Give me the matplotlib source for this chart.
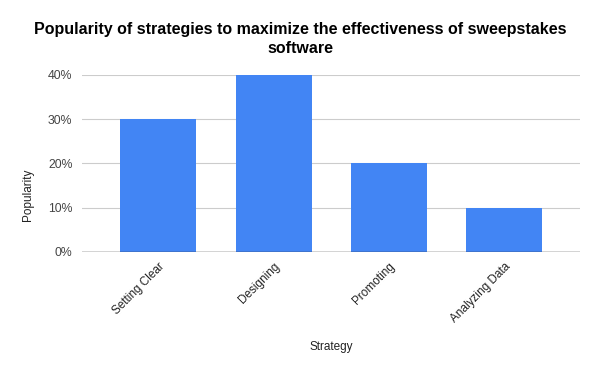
import matplotlib.pyplot as plt
from matplotlib.ticker import PercentFormatter

plt.rcParams['font.family'] = ['Liberation Sans', 'DejaVu Sans']

strategies = ["Setting Clear", "Designing", "Promoting", "Analyzing Data"]
popularity = [0.30, 0.40, 0.20, 0.10]

fig = plt.figure(figsize=(6, 3.71), dpi=100)
ax = fig.add_axes([0.137, 0.321, 0.83, 0.477])

x = range(len(strategies))
ax.bar(x, popularity, width=0.66, color="#4285F4", zorder=3)

ax.set_xlim(-0.66, len(strategies) - 1 + 0.66)
ax.set_ylim(0, 0.4)
ax.set_yticks([0, 0.1, 0.2, 0.3, 0.4])
ax.yaxis.set_major_formatter(PercentFormatter(1.0, decimals=0))
ax.grid(axis="y", color="#cccccc", linewidth=0.8, zorder=0)
ax.axhline(0, color="#333333", linewidth=1, zorder=4)

ax.set_xticks(list(x))
ax.set_xticklabels(strategies, rotation=45, ha="right", rotation_mode="anchor", fontsize=8.5, color="#222222")
ax.tick_params(axis="y", labelsize=8.8, labelcolor="#444444", length=0, pad=7)
ax.tick_params(axis="x", length=0, pad=6)
for s in ax.spines.values():
    s.set_visible(False)

ax.set_xlabel("Strategy", fontsize=8.5, color="#222222", labelpad=12)
ax.set_ylabel("Popularity", fontsize=8.5, color="#222222")
ax.yaxis.set_label_coords(-0.097, 0.32)

fig.suptitle("Popularity of strategies to maximize the effectiveness of sweepstakes\nsoftware",
             fontsize=11.5, fontweight="bold", y=0.94, linespacing=1.35)

fig.savefig("out.png", dpi=100)
